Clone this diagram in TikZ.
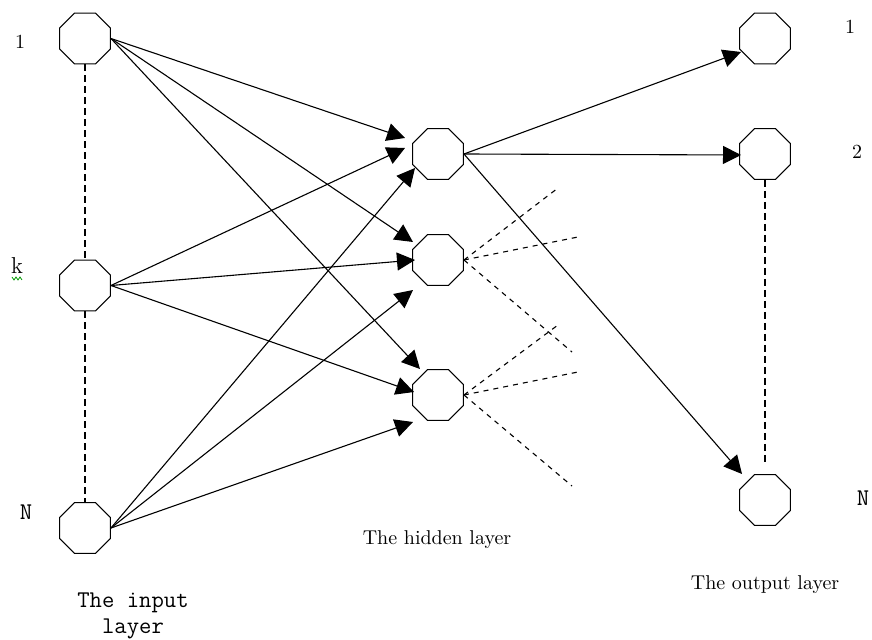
\documentclass[tikz,border=0pt]{standalone}
\usetikzlibrary{shapes.geometric,arrows.meta}
\begin{document}
\begin{tikzpicture}[x=0.5pt,y=-0.5pt,
  neuron/.style={draw,regular polygon,regular polygon sides=8,
    inner sep=0pt,minimum size=27.5pt,line width=0.55pt},
  link/.style={line width=0.55pt,-{Triangle[length=9pt,width=9pt]}},
  stub/.style={line width=0.55pt,dash pattern=on 2.5pt off 2.5pt},
  column/.style={line width=0.55pt,dash pattern=on 3.5pt off 2pt},
  mono/.style={font=\ttfamily\fontsize{12}{13}\selectfont}]
   \useasboundingbox (0,0) rectangle (872,640);

   % input layer
   \node[neuron] (in1) at (85,38.5) {};
   \node[neuron] (ink) at (85,285.5) {};
   \node[neuron] (inN) at (85,528) {};
   \draw[column] (in1.south) -- (ink.north);
   \draw[column] (ink.south) -- (inN.north);

   % hidden layer
   \node[neuron] (h1) at (438,154) {};
   \node[neuron] (h2) at (438,260) {};
   \node[neuron] (h3) at (438,395) {};

   % output layer
   \node[neuron] (out1) at (765,38.5) {};
   \node[neuron] (out2) at (765,154) {};
   \node[neuron] (outN) at (765,500) {};
   \draw[column,shorten >=5pt] (out2.south) -- (outN.north);

   % input -> hidden
   \draw[link] (in1.east) -- ([shift={(-33,-16)}]h1.center);
   \draw[link] (in1.east) -- ([shift={(-25,-18)}]h2.center);
   \draw[link] (in1.east) -- ([shift={(-18,-26)}]h3.center);
   \draw[link] (ink.east) -- ([shift={(-33,-6)}]h1.center);
   \draw[link] (ink.east) -- ([shift={(-23,0)}]h2.center);
   \draw[link] (ink.east) -- ([shift={(-24,-3)}]h3.center);
   \draw[link] (inN.east) -- ([shift={(-23,14)}]h1.center);
   \draw[link] (inN.east) -- ([shift={(-25,30)}]h2.center);
   \draw[link] (inN.east) -- ([shift={(-25,27)}]h3.center);

   % hidden -> output
   \draw[link] (h1.east) -- ([shift={(-24,13.5)}]out1.center);
   \draw[link] (h1.east) -- ([shift={(-24,1)}]out2.center);
   \draw[link] (h1.east) -- ([shift={(-23,-26)}]outN.center);

   % unfinished links
   \coordinate (s2a) at (558,188);
   \coordinate (s2b) at (578,237);
   \coordinate (s2c) at (572,352);
   \coordinate (s3a) at (558,325);
   \coordinate (s3b) at (578,372);
   \coordinate (s3c) at (572,486);
   \foreach \e in {s2a,s2b,s2c} \draw[stub] (h2.east) -- (\e);
   \foreach \e in {s3a,s3b,s3c} \draw[stub] (h3.east) -- (\e);

   % labels
   \node (l1) at (20,42) {1};
   \node[font=\fontsize{11.5}{13}\selectfont] (lk) at (17,266) {k};
   \draw[green!60!black,line width=0.4pt] (12,277) -- (14,280) -- (16,277) -- (18,280) -- (20,277) -- (22,280);
   \node[mono] (lN) at (26,512) {N};
   \node (r1) at (850,27) {1};
   \node (r2) at (857,152) {2};
   \node[mono] (rN) at (863,498) {N};
   \node[mono,align=center] (tin) at (133,616) {The input\\layer};
   \node (thid) at (437,540) {The hidden layer};
   \node (tout) at (765,585) {The output layer};
 \end{tikzpicture}
\end{document}
